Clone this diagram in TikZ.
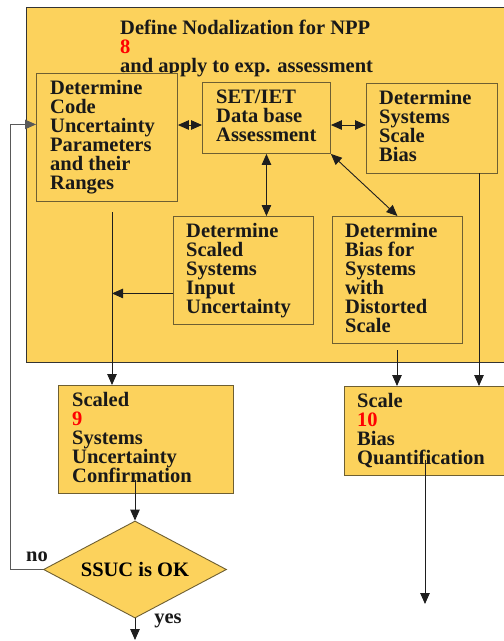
\documentclass[tikz,border=0pt]{standalone}
\usepackage{fontspec}
\setmainfont{Liberation Serif}
\usetikzlibrary{arrows.meta,shapes.geometric}
\newcommand\diagfont{\fontsize{20.5}{19}\selectfont\bfseries}
\definecolor{ylw}{RGB}{252,210,92}
\definecolor{boxline}{RGB}{110,95,50}
\definecolor{lnk}{RGB}{30,30,30}
\begin{document}
\begin{tikzpicture}[x=1pt,y=-1pt,
  box/.style={draw=boxline,line width=0.9pt,fill=ylw,inner sep=0pt,anchor=north west},
  bigbox/.style={draw=black!80,line width=1pt,fill=ylw,inner sep=0pt,anchor=north west},
  txt/.style={font=\diagfont,align=left,inner sep=0pt,anchor=north west,text=black!90},
  arr/.style={draw=lnk,line width=0.9pt,-{Triangle[length=11pt,width=9.5pt]}},
  dbl/.style={draw=lnk,line width=0.9pt,{Triangle[length=11pt,width=9.5pt]}-{Triangle[length=11pt,width=9.5pt]}}]
\clip (0,0) rectangle (504,641);
\fill[white] (0,0) rectangle (504,641);
% big box
\node[bigbox,minimum width=480pt,minimum height=355pt] (big) at (26,7) {};
\node[txt] (title) at (120,20) {Define Nodalization for NPP\\\textcolor{red}{8}\\and apply to exp. assessment};
% inner boxes
\node[box,minimum width=141pt,minimum height=128pt] (A) at (36,73) {};
\node[txt] (At) at (50,80) {Determine\\Code\\Uncertainty\\Parameters\\and their\\Ranges};
\node[box,minimum width=128pt,minimum height=71pt] (B) at (202,82) {};
\node[txt] (Bt) at (216,90) {SET/IET\\Data base\\Assessment};
\node[box,minimum width=131pt,minimum height=90pt] (C) at (366,83) {};
\node[txt] (Ct) at (379,90) {Determine\\Systems\\Scale\\Bias};
\node[box,minimum width=140pt,minimum height=108pt] (D) at (173,216) {};
\node[txt] (Dt) at (186,223) {Determine\\Scaled\\Systems\\Input\\Uncertainty};
\node[box,minimum width=130pt,minimum height=127pt] (E) at (332,216) {};
\node[txt] (Et) at (345,223) {Determine\\Bias for\\Systems\\with\\Distorted\\Scale};
% lower boxes
\node[box,minimum width=175pt,minimum height=108pt] (F) at (58,385) {};
\node[txt] (Ft) at (72,392) {Scaled\\\textcolor{red}{9}\\Systems\\Uncertainty\\Confirmation};
\node[box,minimum width=165pt,minimum height=89pt] (G) at (344,386) {};
\node[txt] (Gt) at (357,393) {Scale\\\textcolor{red}{10}\\Bias\\Quantification};
\node[diamond,aspect=1.89,draw=boxline,line width=0.9pt,fill=ylw,inner sep=0pt,minimum width=183pt,minimum height=97pt,font=\diagfont] (diam) at (135,569.5) {SSUC is OK};
% coordinates
\coordinate (r1) at (0,125);
\coordinate (v1) at (112,212);
\coordinate (d1) at ([yshift=-23pt]D.west);
\coordinate (c1) at (479,173);
\coordinate (e1) at (397,350);
\coordinate (f1) at (135,480);
\coordinate (g1) at (425,460);
\coordinate (g2) at (425,604);
\coordinate (yend) at (135,640);
\coordinate (lp) at (10,569.5);
% connectors
\draw[dbl] (A.east |- r1) -- (B.west |- r1);
\draw[dbl] (B.east |- r1) -- (C.west |- r1);
\draw[dbl] (B.south) -- (D.north -| B.south);
\draw[dbl] (B.south east) -- (E.north);
\draw[arr] (v1) -- (v1 |- F.north);
\draw[arr] (d1) -- (v1 |- d1);
\draw[arr] (c1) -- (c1 |- G.north);
\draw[arr] (e1) -- (e1 |- G.north);
\draw[arr] (f1) -- (diam.north);
\draw[arr] (g1) -- (g2);
\draw[arr] (diam.south) -- (yend);
\draw[arr,draw=black!65] (diam.west) -- (lp) |- ([yshift=13pt]A.west);
% labels
\node[txt,anchor=center] (no) at (37,557) {no};
\node[txt,anchor=center] (yes) at (168,621) {yes};
\end{tikzpicture}
\end{document}
